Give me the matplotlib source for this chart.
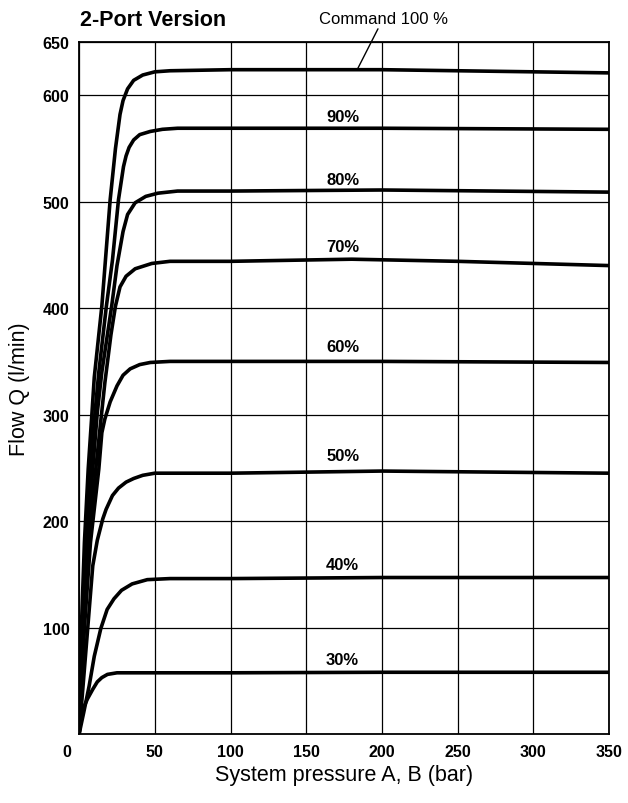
import matplotlib
matplotlib.use("Agg")
import matplotlib.pyplot as plt

plt.rcParams["font.family"] = ["Liberation Sans", "DejaVu Sans"]

# flow curves: pressure (bar) -> flow (l/min)
x100 = [0, 1.5, 3.5, 6, 8.5, 10, 15, 20.5, 24, 27, 29, 32, 36, 42, 50, 60, 100, 200, 250, 300, 350]
y100 = [0, 100, 180, 249, 302, 335, 402, 502, 550, 582, 595, 606, 614, 619, 622, 623, 624, 624, 623, 622, 621]

x90 = [0, 2, 4.5, 7.5, 10.5, 13, 18, 22, 26, 29.3, 31, 33, 36, 40, 47, 55, 65, 100, 200, 350]
y90 = [0, 100, 180, 249, 302, 340, 402, 445, 502, 533, 543, 551, 558, 563, 566, 568, 569, 569, 569, 568]

x80 = [0, 2.5, 5.5, 9, 12, 15, 21.5, 25, 29, 32, 37, 44, 52, 65, 100, 200, 350]
y80 = [0, 100, 180, 249, 302, 340, 402, 440, 472, 488, 499, 505, 508, 510, 510, 511, 509]

x70 = [0, 3, 6.5, 11, 14, 17, 21, 24, 27, 31, 37, 48, 60, 100, 180, 250, 350]
y70 = [0, 100, 180, 249, 290, 330, 375, 402, 420, 430, 437, 442, 444, 444, 446, 444, 440]

x60 = [0, 3.5, 7.5, 13, 15, 17, 20.5, 25, 29, 33.7, 40, 47, 60, 100, 200, 350]
y60 = [0, 100, 180, 249, 283, 296, 312, 327, 337, 343, 347, 349, 350, 350, 350, 349]

x50 = [0, 4, 9, 12, 15.6, 17.8, 22, 26, 31, 36, 42, 50, 60, 100, 200, 350]
y50 = [0, 70, 158, 182, 202, 211, 224, 231, 236.6, 240, 243, 245, 245, 245, 247, 245]

x40 = [0, 3, 6.6, 10, 14.3, 18.5, 23, 28, 35, 45, 60, 100, 200, 350]
y40 = [0, 20, 45, 73, 99, 117, 127, 135, 141, 145, 146, 146, 147, 147]

x30 = [0, 1, 3, 5.5, 9, 12, 15, 18.7, 25, 32, 60, 100, 200, 350]
y30 = [0, 14, 25, 33, 42, 49, 53, 56, 57.5, 57.5, 57.5, 57.5, 58, 58]

curves = [(x100, y100), (x90, y90), (x80, y80), (x70, y70),
          (x60, y60), (x50, y50), (x40, y40), (x30, y30)]

labels = ["90%", "80%", "70%", "60%", "50%", "40%", "30%"]
label_y = [580, 521, 458, 364, 262, 159, 70]

fig = plt.figure(figsize=(6.28, 8.04), dpi=100)
ax = fig.add_axes([0.126, 0.0858, 0.844, 0.8607])

for xs, ys in curves:
    ax.plot(xs, ys, color="black", lw=2.6, solid_joinstyle="round",
            solid_capstyle="round", zorder=3)

for lab, yy in zip(labels, label_y):
    ax.text(174, yy, lab, ha="center", va="center", fontsize=12,
            fontweight="bold", zorder=4)

ax.set_xlim(0, 350)
ax.set_ylim(0, 650)
ax.set_xticks(range(0, 351, 50))
ax.set_xticklabels([""] + [str(v) for v in range(50, 351, 50)])
ax.set_yticks([100, 200, 300, 400, 500, 600, 650])
ax.tick_params(length=0, labelsize=11.5, pad=7)
for t in ax.get_xticklabels() + ax.get_yticklabels():
    t.set_fontweight("bold")
ax.text(-0.015, -0.0246, "0", transform=ax.transAxes, ha="right",
        va="center", fontsize=11.5, fontweight="bold")

ax.grid(True, color="black", lw=0.9)
ax.set_axisbelow(True)
for s in ax.spines.values():
    s.set_linewidth(1.3)

ax.set_xlabel("System pressure A, B (bar)", fontsize=15.5, labelpad=4)
ax.set_ylabel("Flow Q (l/min)", fontsize=15.5, labelpad=9)

fig.text(0.127, 0.975, "2-Port Version", fontsize=15.5, fontweight="bold",
         ha="left", va="center")

ax.annotate("Command 100 %", xy=(183.6, 624), xytext=(200.8, 665),
            textcoords="data", annotation_clip=False, fontsize=12,
            ha="center", va="bottom",
            arrowprops=dict(arrowstyle="-", color="black", lw=1.0,
                            shrinkA=0, shrinkB=0))

fig.savefig("out.png", dpi=100)
